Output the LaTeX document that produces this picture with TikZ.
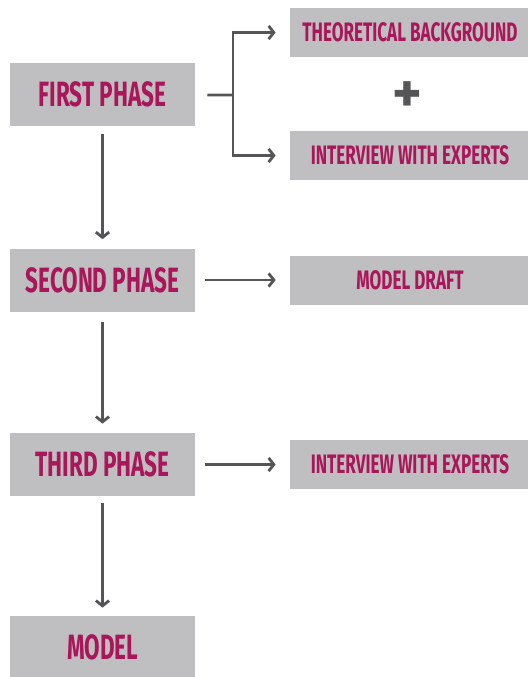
\documentclass[tikz,border=0pt]{standalone}
\usepackage{fontspec}
\setmainfont{Fira Sans}
\newfontfamily\phasefont{Fira Sans}[FakeStretch=0.64]
\usepackage{tikz}
\usetikzlibrary{arrows.meta, positioning}
\definecolor{phaseText}{RGB}{170, 22, 90}
\definecolor{boxGray}{RGB}{191, 191, 193}
\definecolor{linkGray}{RGB}{85, 85, 87}

\begin{document}
\begin{tikzpicture}[x=0.02cm, y=-0.02cm, >={Straight Barb[length=3pt, width=7.5pt]},
  phase/.style={fill=boxGray, inner sep=0pt, minimum width=3.7cm, minimum height=1.26cm,
    text=phaseText, font=\phasefont\bfseries\fontsize{20}{20}\selectfont},
  task/.style={fill=boxGray, inner sep=0pt, minimum width=4.8cm, minimum height=0.98cm,
    text=phaseText, font=\phasefont\bfseries\fontsize{15.2}{15}\selectfont},
  link/.style={linkGray, line width=1.6pt}]
  \useasboundingbox (0,0) rectangle (528,677);

  % phases on the left
  \node[phase] (first)  at (102.5,94.5)  {FIRST PHASE};
  \node[phase] (second) at (102.5,280)   {SECOND PHASE};
  \node[phase] (third)  at (102.5,464.5) {THIRD PHASE};
  \node[phase] (model)  at (102.5,647.5) {MODEL};

  % what each phase gives
  \node[task] (theory)     at (410,32.5)  {THEORETICAL BACKGROUND};
  \node[task] (interviewA) at (410,155.5) {INTERVIEW WITH EXPERTS};
  \node[task] (draft)      at (410,280)   {MODEL DRAFT};
  \node[task] (interviewB) at (410,464.5) {INTERVIEW WITH EXPERTS};
  \node[text=linkGray, font=\bfseries\fontsize{32}{32}\selectfont] (plus) at (407,97) {+};

  \coordinate (fork) at (233,95);
  \draw[link, shorten <=0.24cm] (first) -- (fork);
  \draw[link, ->, shorten >=0.28cm] (fork) |- (theory);
  \draw[link, ->, shorten >=0.28cm] (fork) |- (interviewA);

  \draw[link, ->, shorten <=0.16cm, shorten >=0.18cm] (first) -- (second);
  \draw[link, ->, shorten <=0.2cm, shorten >=0.18cm] (second) -- (third);
  \draw[link, ->, shorten <=0.14cm, shorten >=0.16cm] (third) -- (model);

  \draw[link, ->, shorten <=0.2cm, shorten >=0.28cm] (second) -- (draft);
  \draw[link, ->, shorten <=0.2cm, shorten >=0.28cm] (third) -- (interviewB);
\end{tikzpicture}
\end{document}
